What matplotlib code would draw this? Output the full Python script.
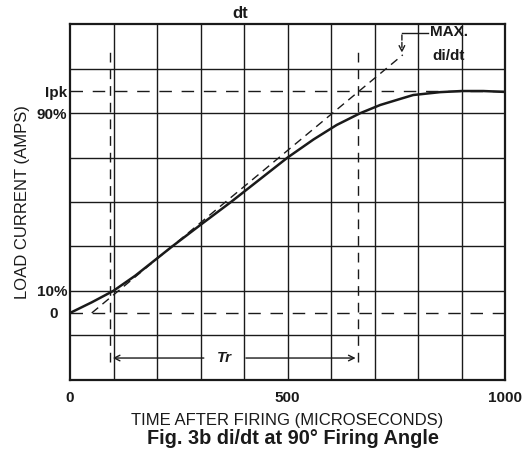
import numpy as np
import matplotlib
matplotlib.use('Agg')
import matplotlib.pyplot as plt

# curve (time in microseconds, current as fraction of Ipk)
t_us = [0, 50, 100, 150, 235, 300, 370, 435, 500, 560, 613, 667, 713, 760, 789, 851, 900, 950, 1000]
i_load = [0, 0.048, 0.1, 0.168, 0.3, 0.397, 0.5, 0.6, 0.7, 0.782, 0.847, 0.9, 0.937, 0.965, 0.982, 0.995, 1.0, 1.0, 0.996]

# max di/dt tangent
tan_t = [50, 765]
tan_i = [0, 1.163]

# rise time markers
tr_start = 92
tr_end = 663

x_ticks = [0, 500, 1000]
x_tick_labels = ['0', '500', '1000']
y_ticks = [1.0, 0.9, 0.1, 0.0]
y_tick_labels = ['Ipk', '90%', '10%', '0  ']

grid_x = np.arange(100, 1000, 100)
grid_y = np.arange(-0.1, 1.25, 0.2)

plt.rcParams['font.family'] = ['Liberation Sans', 'DejaVu Sans']
ink = '#1a1a1a'

fig = plt.figure(figsize=(5.29, 4.51), dpi=100)
ax = fig.add_axes([70 / 529, 1 - 380 / 451, 435 / 529, 356 / 451])
ax.set_xlim(0, 1000)
ax.set_ylim(-0.302, 1.302)

for gx in grid_x:
    ax.axvline(gx, color=ink, lw=1.0)
for gy in grid_y:
    ax.axhline(gy, color=ink, lw=1.0)

# Ipk and zero reference lines
ax.axhline(1.0, color=ink, lw=1.0, dashes=(9, 7))
ax.axhline(0.0, color=ink, lw=1.0, dashes=(9, 7))

# Tr verticals
ax.plot([tr_start, tr_start], [-0.22, 1.2], color=ink, lw=1.0, dashes=(7, 5))
ax.plot([tr_end, tr_end], [-0.22, 1.2], color=ink, lw=1.0, dashes=(7, 5))

# tangent
ax.plot(tan_t, tan_i, color=ink, lw=1.0, dashes=(6, 4))

# load current curve
ax.plot(t_us, i_load, color=ink, lw=1.8)

# Tr arrow
tr_mid = 356
ax.text(tr_mid, -0.203, 'Tr', ha='center', va='center', fontsize=11,
        fontweight='bold', fontstyle='italic', color=ink)
ax.annotate('', xy=(tr_start, -0.203), xytext=(tr_mid - 42, -0.203),
            arrowprops=dict(arrowstyle='->', color=ink, lw=1.0))
ax.annotate('', xy=(tr_end, -0.203), xytext=(tr_mid + 42, -0.203),
            arrowprops=dict(arrowstyle='->', color=ink, lw=1.0))

# MAX di/dt leader
ax.plot([823, 763], [1.26, 1.26], color=ink, lw=1.0)
ax.annotate('', xy=(763, 1.16), xytext=(763, 1.265),
            arrowprops=dict(arrowstyle='->', color=ink, lw=1.0, linestyle='--'))
ax.text(828, 1.265, 'MAX.', ha='left', va='center', fontsize=11, fontweight='bold', color=ink)
ax.text(832, 1.16, 'di/dt', ha='left', va='center', fontsize=11, fontweight='bold', color=ink)

ax.set_xticks(x_ticks)
ax.set_xticklabels(x_tick_labels, fontsize=11, fontweight='bold', color=ink)
ax.set_yticks(y_ticks)
ax.set_yticklabels(y_tick_labels, fontsize=11, fontweight='bold', color=ink)
ax.tick_params(length=0, pad=2)
ax.tick_params(axis='x', pad=8)

for s in ax.spines.values():
    s.set_linewidth(1.6)
    s.set_color(ink)

ax.set_xlabel('TIME AFTER FIRING (MICROSECONDS)', fontsize=12, color=ink, labelpad=6)
ax.set_ylabel('LOAD CURRENT (AMPS)', fontsize=12, color=ink, labelpad=5)

fig.text(293 / 529, 1 - 438 / 451, 'Fig. 3b di/dt at 90° Firing Angle', ha='center', va='center',
         fontsize=14.3, fontweight='bold', color=ink)
fig.text(240 / 529, 1 - 13 / 451, 'dt', ha='center', va='center', fontsize=12, fontweight='bold', color=ink)

fig.savefig('out.png', dpi=100)
